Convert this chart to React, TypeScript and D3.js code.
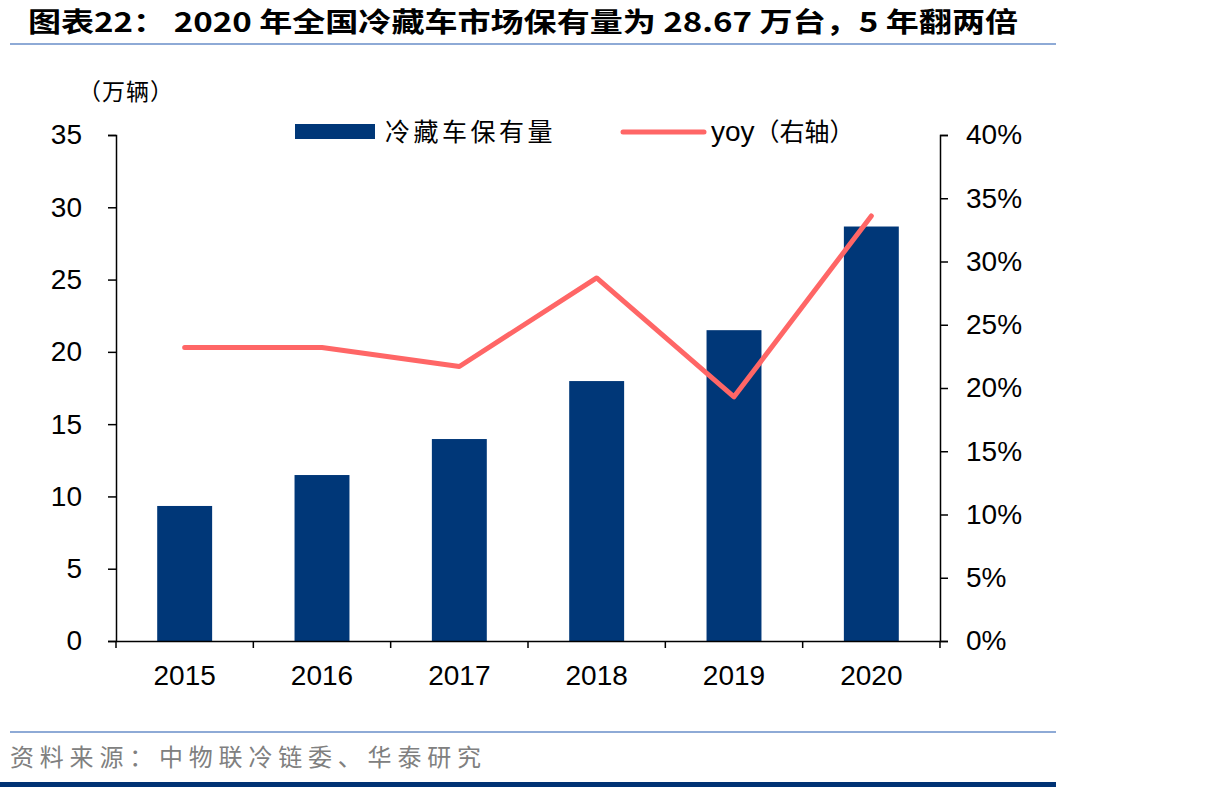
import * as d3 from "d3";
import { useEffect, useRef } from "react";

// 冷藏车保有量（万辆）与同比增速
const years = ["2015", "2016", "2017", "2018", "2019", "2020"];
const stock = [9.34, 11.48, 13.97, 17.98, 21.5, 28.67];
const yoy = [0.232, 0.232, 0.217, 0.287, 0.193, 0.336];
const leftTicks = [0, 5, 10, 15, 20, 25, 30, 35];
const rightTicks = [0, 0.05, 0.1, 0.15, 0.2, 0.25, 0.3, 0.35, 0.4];

const W = 1206;
const H = 787;
const NUM = "'Liberation Sans', Arial, sans-serif";
const CJK = "'Noto Sans CJK SC', sans-serif";
const BLUE = "#003778";
const RED = "#ff6666";

const App = () => {
  const ref = useRef<SVGSVGElement>(null);

  useEffect(() => {
    const svg = d3.select(ref.current);
    svg.selectAll("*").remove();

    const left = 116, right = 940, top = 135, bottom = 641;

    const x = d3.scaleBand().domain(years).range([left, right]).paddingInner(0).paddingOuter(0);
    const y = d3.scaleLinear().domain([0, 35]).range([bottom, top]);
    const y2 = d3.scaleLinear().domain([0, 0.4]).range([bottom, top]);

    // title
    svg.append("text")
      .attr("x", 28).attr("y", 32)
      .attr("font-family", `'Liberation Sans Narrow', ${CJK}`)
      .attr("font-weight", "bold").attr("font-size", 27)
      .attr("textLength", 990).attr("lengthAdjust", "spacingAndGlyphs")
      .text("图表22：  2020 年全国冷藏车市场保有量为 28.67 万台，5 年翻两倍");

    svg.append("rect").attr("x", 10).attr("y", 43).attr("width", 1046).attr("height", 2).attr("fill", "#8eaad6");

    // unit label
    svg.append("text")
      .attr("x", 78).attr("y", 100)
      .attr("font-family", CJK).attr("font-size", 23).attr("letter-spacing", 1)
      .text("（万辆）");

    // bars
    const bw = x.bandwidth() * 0.4;
    svg.append("g")
      .selectAll("rect")
      .data(years)
      .join("rect")
      .attr("x", (d) => x(d)! + (x.bandwidth() - bw) / 2)
      .attr("y", (_, i) => y(stock[i]))
      .attr("width", bw)
      .attr("height", (_, i) => bottom - y(stock[i]))
      .attr("fill", BLUE);

    // left axis
    const la = svg.append("g").attr("transform", `translate(${left},0)`)
      .call(d3.axisLeft(y).tickValues(leftTicks).tickSize(8).tickPadding(26).tickFormat(d3.format("d")));
    la.select(".domain").attr("stroke", "#000").attr("stroke-width", 1.5);
    la.selectAll(".tick line").attr("stroke", "#000").attr("stroke-width", 1.5);
    la.selectAll(".tick text").attr("font-family", NUM).attr("font-size", 28).attr("fill", "#000");

    // right axis
    const ra = svg.append("g").attr("transform", `translate(${right},0)`)
      .call(d3.axisRight(y2).tickValues(rightTicks).tickSize(8).tickPadding(18).tickFormat(d3.format(".0%")));
    ra.select(".domain").attr("stroke", "#000").attr("stroke-width", 1.5);
    ra.selectAll(".tick line").attr("stroke", "#000").attr("stroke-width", 1.5);
    ra.selectAll(".tick text").attr("font-family", NUM).attr("font-size", 28).attr("fill", "#000");

    // x axis
    const xa = svg.append("g").attr("transform", `translate(0,${bottom})`)
      .call(d3.axisBottom(x).tickSize(0).tickPadding(24));
    xa.select(".domain").attr("stroke", "#000").attr("stroke-width", 1.5);
    xa.selectAll(".tick text").attr("font-family", NUM).attr("font-size", 28).attr("fill", "#000");
    xa.selectAll("line.sep")
      .data([...years.map((d) => x(d)!), right])
      .join("line")
      .attr("class", "sep")
      .attr("x1", (d) => d).attr("x2", (d) => d)
      .attr("y1", 0).attr("y2", 7)
      .attr("stroke", "#000").attr("stroke-width", 1.5);

    // yoy line
    const line = d3.line<number>()
      .x((_, i) => x(years[i])! + x.bandwidth() / 2)
      .y((d) => y2(d));
    svg.append("path")
      .datum(yoy)
      .attr("d", line)
      .attr("fill", "none")
      .attr("stroke", RED)
      .attr("stroke-width", 5)
      .attr("stroke-linecap", "round")
      .attr("stroke-linejoin", "round");

    // legend
    const lg = svg.append("g");
    lg.append("rect").attr("x", 295).attr("y", 124).attr("width", 80).attr("height", 15).attr("fill", BLUE);
    lg.append("text").attr("x", 385).attr("y", 141)
      .attr("font-family", CJK).attr("font-size", 25).attr("letter-spacing", 3.5).text("冷藏车保有量");
    lg.append("line").attr("x1", 623).attr("x2", 704).attr("y1", 132).attr("y2", 132)
      .attr("stroke", RED).attr("stroke-width", 5).attr("stroke-linecap", "round");
    const t = lg.append("text").attr("x", 711).attr("y", 141);
    t.append("tspan").attr("font-family", NUM).attr("font-size", 28).text("yoy");
    t.append("tspan").attr("font-family", CJK).attr("font-size", 25).text("（右轴）");

    // source
    svg.append("rect").attr("x", 10).attr("y", 731).attr("width", 1046).attr("height", 2).attr("fill", "#8eaad6");
    svg.append("text")
      .attr("x", 10).attr("y", 766)
      .attr("font-family", CJK).attr("font-size", 24).attr("letter-spacing", 5.8).attr("fill", "#808080")
      .text("资料来源：中物联冷链委、华泰研究");
    svg.append("rect").attr("x", 0).attr("y", 782).attr("width", 1056).attr("height", 5).attr("fill", "#003274");
  }, []);

  return (
    <svg
      ref={ref}
      width={W}
      height={H}
      style={{ position: "absolute", left: 0, top: 0, background: "#fff" }}
    />
  );
};

export default App;
